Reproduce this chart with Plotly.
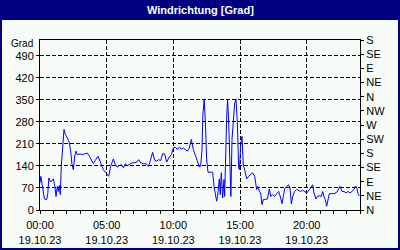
import pandas as pd
import plotly.graph_objects as go

# minutes since midnight, 19.10.23
minutes = [0, 4, 10, 15, 20, 30, 35, 40, 45, 52, 60, 67, 72, 78, 82, 87, 91, 96, 102, 108,
           114, 123, 132, 138, 144, 150, 156, 162, 168, 180, 192, 204, 213, 222, 232, 240, 249,
           261, 270, 279, 285, 297, 309, 318, 330, 339, 348, 357, 366, 375, 384, 393, 402, 414,
           426, 435, 444, 453, 465, 477, 489, 498, 507, 516, 525, 534, 543, 552, 561, 570, 579,
           591, 600, 609, 618, 627, 636, 645, 654, 663, 672, 681, 690, 699, 708, 717,
           723, 729, 733, 739, 745, 750, 756, 765, 777, 783, 789, 795, 799, 807, 811, 816, 822,
           828, 831, 835, 840, 844, 849, 855, 859, 864, 870, 876, 882, 888, 894, 898, 903, 909,
           915, 919, 924, 930, 939, 948, 957, 966, 975, 981, 987, 993, 999, 1005, 1014, 1023,
           1032, 1038, 1047, 1056, 1065, 1074, 1083, 1089, 1095, 1101, 1110, 1119, 1125, 1131,
           1137, 1146, 1155, 1164, 1173, 1182, 1191, 1200, 1206, 1215, 1227, 1233, 1242, 1248,
           1257, 1266, 1272, 1278, 1284, 1290, 1296, 1302, 1311, 1323, 1335, 1344, 1350, 1359,
           1368, 1377, 1386, 1395, 1404, 1413, 1419, 1425, 1431, 1437]
direction = [86, 107, 80, 54, 35, 33, 52, 102, 91, 91, 99, 75, 43, 75, 59, 78, 49, 141, 203, 256,
             240, 229, 213, 187, 144, 128, 169, 187, 176, 178, 176, 179, 181, 171, 158, 147, 158,
             171, 155, 141, 128, 118, 107, 139, 162, 144, 136, 141, 144, 134, 147, 141, 146, 150,
             150, 152, 160, 150, 147, 147, 139, 158, 183, 158, 155, 160, 157, 179, 178, 152, 165,
             176, 197, 200, 192, 200, 194, 197, 192, 187, 197, 224, 192, 171, 155, 137,
             139, 192, 303, 353, 266, 160, 120, 120, 120, 75, 43, 28, 43, 99, 49, 118, 38,
             97, 43, 213, 293, 351, 282, 139, 43, 224, 293, 340, 353, 277, 134, 128, 205, 234,
             139, 134, 118, 99, 107, 112, 118, 107, 65, 75, 59, 54, 17, 33, 35, 35,
             67, 43, 49, 43, 52, 59, 38, 20, 43, 67, 75, 80, 70, 19,
             43, 59, 65, 63, 59, 63, 59, 54, 59, 70, 80, 54, 35, 43,
             45, 43, 59, 43, 33, 12, 38, 52, 52, 52, 56, 67, 75, 59,
             59, 54, 59, 54, 59, 65, 75, 73, 52, 45]

left_ticks = [0, 70, 140, 210, 280, 350, 420, 490]
right_ticks = [0, 45, 90, 135, 180, 225, 270, 315, 360, 405, 450, 495, 540]
right_labels = ["N", "NE", "E", "SE", "S", "SW", "W", "NW", "N", "NE", "E", "SE", "S"]
title_text = "Windrichtung [Grad]"
unit_text = "Grad"

times = pd.Timestamp("2023-10-19") + pd.to_timedelta(minutes, unit="min")

FONT = "Liberation Sans Narrow, Liberation Sans, Arial, sans-serif"
BG = "#F8FCF8"
NAVY = "#000080"

fig = go.Figure()
fig.add_trace(go.Scatter(x=times, y=direction, mode="lines",
                         line=dict(color="#0000FF", width=1), showlegend=False,
                         hoverinfo="skip"))
# invisible trace to activate right axis
fig.add_trace(go.Scatter(x=[times[0]], y=[0], yaxis="y2", mode="markers",
                         marker=dict(opacity=0), showlegend=False, hoverinfo="skip"))

fig.update_layout(
    width=400, height=250,
    margin=dict(l=40, r=40, t=40, b=40, autoexpand=False),
    paper_bgcolor=NAVY, plot_bgcolor=BG,
    font=dict(family=FONT, size=11, color="black"),
    xaxis=dict(type="date", range=["2023-10-19 00:00", "2023-10-20 00:00"],
               dtick=5 * 3600000, tick0="2023-10-19 00:00",
               tickformat="%H:%M<br>%d.%m.%y", ticks="outside", ticklen=3,
               ticklabelstandoff=2, automargin=False,
               tickcolor="black", showline=True, linecolor="black", linewidth=1,
               mirror=True, showgrid=True, gridcolor="black", griddash="4px,2px",
               gridwidth=1, zeroline=False,
               minor=dict(dtick=3600000, ticks="outside", ticklen=3, tickcolor="black",
                          showgrid=False),
               tickfont=dict(family=FONT, size=11, color="black")),
    yaxis=dict(range=[0, 540], tickvals=left_ticks, ticks="outside", ticklen=3,
               automargin=False,
               tickcolor="black", showline=True, linecolor="black", linewidth=1,
               showgrid=True, gridcolor="black", griddash="4px,2px", gridwidth=1,
               zeroline=False, tickfont=dict(family=FONT, size=11, color="black")),
    yaxis2=dict(range=[0, 540], overlaying="y", side="right", tickvals=right_ticks,
                ticktext=right_labels, ticks="outside", ticklen=3, tickcolor="black",
                automargin=False,
                showline=True, linecolor="black", linewidth=1, showgrid=False,
                zeroline=False, tickfont=dict(family=FONT, size=11, color="black")),
    shapes=[dict(type="rect", xref="paper", yref="paper", layer="below",
                 x0=(2 - 40) / 320, x1=(398 - 40) / 320,
                 y0=(210 - 248) / 170, y1=(210 - 20) / 170,
                 fillcolor=BG, line=dict(width=0))],
    annotations=[
        dict(text="<b>" + title_text + "</b>", xref="paper", yref="paper",
             x=0.5, y=(210 - 10) / 170, xanchor="center", yanchor="middle",
             showarrow=False, font=dict(family="Liberation Sans, Arial, sans-serif",
                                        size=11, color="white")),
        dict(text=unit_text, xref="paper", yref="paper",
             x=(35 - 40) / 320, y=(210 - 43) / 170, xanchor="right", yanchor="middle",
             showarrow=False, font=dict(family=FONT, size=10, color="black")),
    ],
)

fig.write_html("out.html")
